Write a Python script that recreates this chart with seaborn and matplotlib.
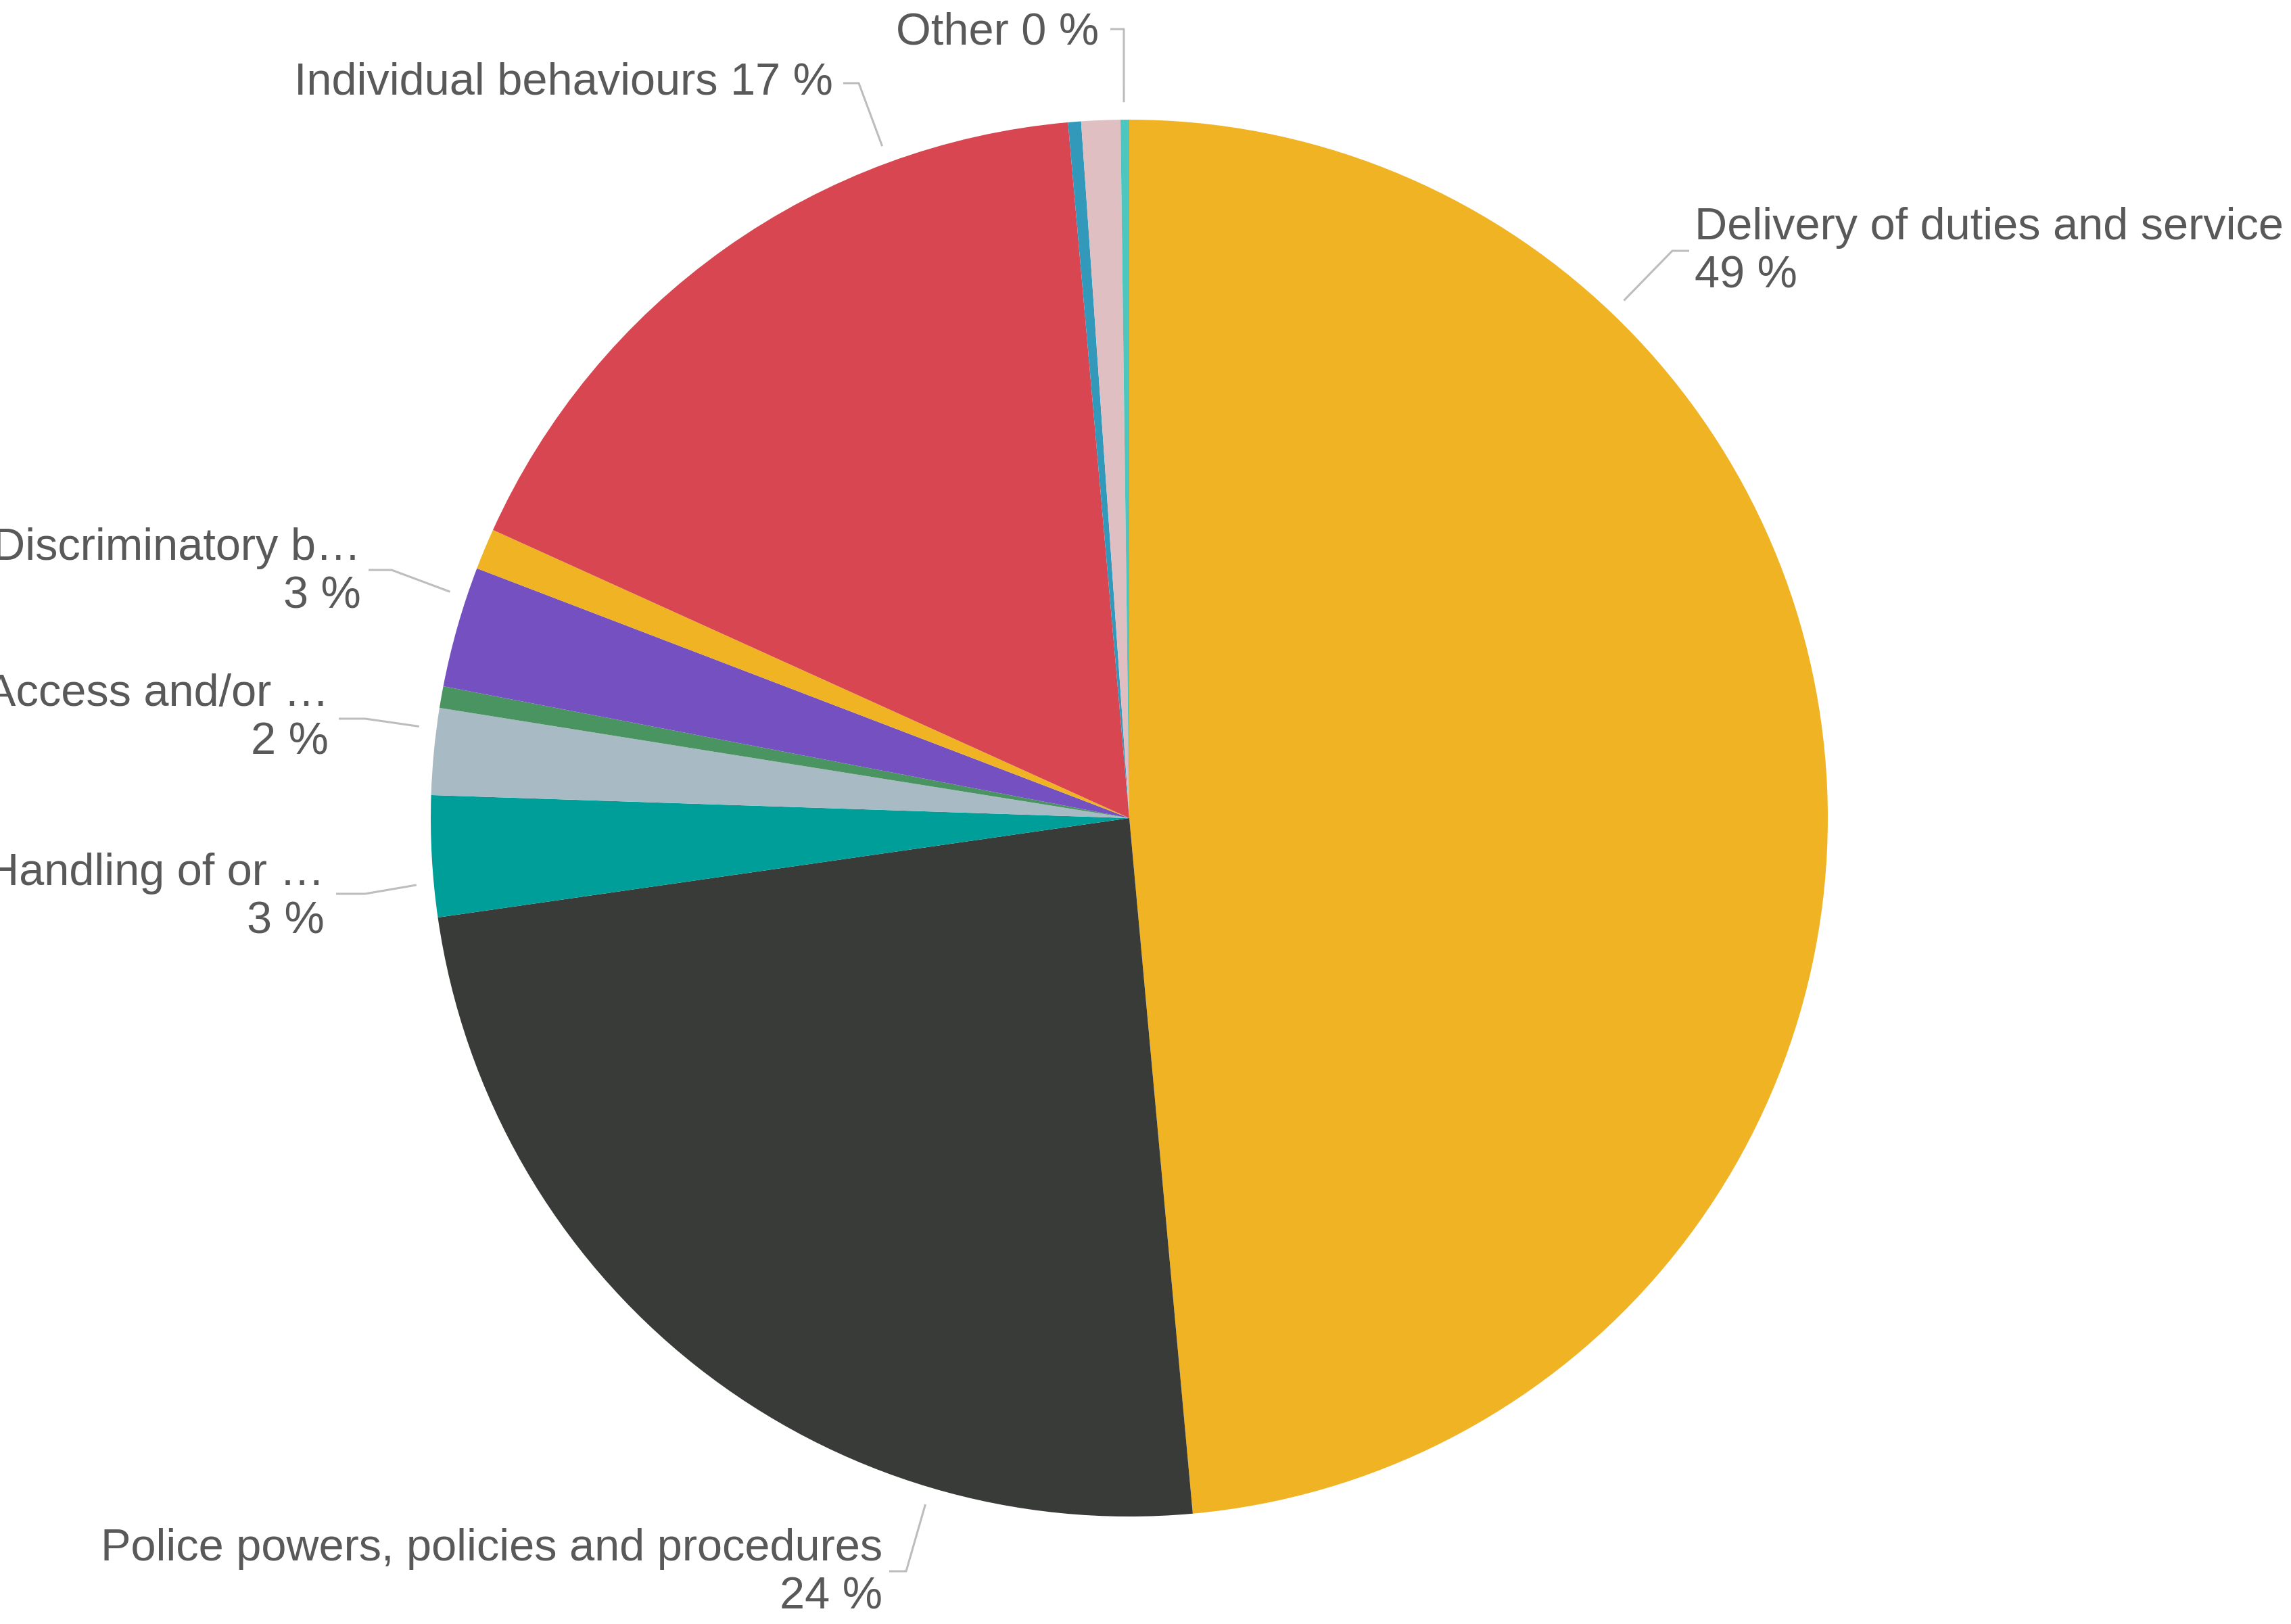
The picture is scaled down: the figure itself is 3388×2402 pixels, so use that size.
import numpy as np
import matplotlib
matplotlib.use("Agg")
import matplotlib.pyplot as plt
import seaborn as sns

# Complaint categories (clockwise from 12 o'clock) and their shares (%)
categories = [
    "Delivery of duties and service",
    "Police powers, policies and procedures",
    "Handling of or damage to property/premises",
    "Access and/or disclosure of information",
    "Use of police vehicles",
    "Discriminatory behaviour",
    "Abuse of position/corruption",
    "Individual behaviours",
    "Sexual conduct",
    "Discreditable conduct",
    "Other",
]
shares = [48.6, 24.2, 2.8, 2.0, 0.5, 2.8, 0.95, 16.85, 0.3, 0.9, 0.2]

colours = ["#F0B323", "#393B38", "#009E99", "#A8BAC3", "#4A9462", "#7550C1",
           "#F0B323", "#D84652", "#3399BB", "#DFBFC2", "#4DC6C0"]

# Shortened label text as shown next to the chart (None = no label)
label_text = [
    "Delivery of duties and service",
    "Police powers, policies and procedures",
    "Handling of or …",
    "Access and/or …",
    None,
    "Discriminatory b…",
    None,
    "Individual behaviours",
    None,
    None,
    "Other",
]

sns.set_theme(style="white")
plt.rcParams["font.family"] = ["Liberation Sans", "DejaVu Sans"]

W, H = 3388, 2402
CX, CY, R = 1670, 1210, 1033  # pie centre and radius in pixels

fig = plt.figure(figsize=(W / 100, H / 100), dpi=100)
ax = fig.add_axes([0, 0, 1, 1])

palette = sns.color_palette(colours)
wedges, _ = ax.pie(shares, colors=palette, startangle=90, counterclock=False,
                   radius=1.0, center=(0, 0),
                   wedgeprops=dict(linewidth=0, antialiased=True))

# pie() resets the limits, so set the canvas mapping afterwards
ax.set_xlim(-CX / R, (W - CX) / R)
ax.set_ylim(-(H - CY) / R, CY / R)
ax.set_aspect("equal")
ax.axis("off")


def px(x, y):
    """Pixel position -> data coordinates."""
    return ((x - CX) / R, (CY - y) / R)


TEXT_COL = "#595959"
LINE_COL = "#BDBDBD"
FS = 48

# Label layout: fraction within wedge for the leader start, elbow and end of
# leader (pixels), text anchor (pixels), alignment, two-line or single-line
layout = {
    0: dict(frac=0.25, elbow=(2473, 371), end=(2498, 371), xy=(2506, 354), ha="left", two=True),
    1: dict(frac=0.25, elbow=(1340, 2324), end=(1315, 2324), xy=(1305, 2308), ha="right", two=True),
    2: dict(frac=0.28, elbow=(540, 1322), end=(497, 1322), xy=(480, 1309), ha="right", two=True),
    3: dict(frac=0.76, elbow=(540, 1063), end=(501, 1063), xy=(486, 1044), ha="right", two=True),
    5: dict(frac=0.75, elbow=(579, 843), end=(545, 843), xy=(534, 828), ha="right", two=True),
    7: dict(frac=0.75, elbow=(1270, 123), end=(1247, 123), xy=(1232, 140), ha="right", two=False),
    10: dict(frac=0.40, elbow=(1662, 43), end=(1642, 43), xy=(1625, 65), ha="right", two=False),
}

total = sum(shares)
start = 0.0  # clockwise degrees from 12 o'clock
LINE_STEP = 72  # px between baselines
for i, (val, txt) in enumerate(zip(shares, label_text)):
    span = val / total * 360.0
    if i in layout:
        L = layout[i]
        theta = start + L["frac"] * span
        ang = np.deg2rad(90 - theta)
        r0 = 1.025
        p0 = (r0 * np.cos(ang), r0 * np.sin(ang))
        p1 = px(*L["elbow"])
        p2 = px(*L["end"])
        ax.plot([p0[0], p1[0], p2[0]], [p0[1], p1[1], p2[1]],
                color=LINE_COL, lw=2.2, solid_capstyle="butt", zorder=3)
        pct = f"{int(val / total * 100 + 0.5)} %"
        tx, ty = L["xy"]
        if L["two"]:
            ax.text(*px(tx, ty), txt, ha=L["ha"], va="baseline",
                    fontsize=FS, color=TEXT_COL)
            ax.text(*px(tx, ty + LINE_STEP), pct, ha=L["ha"], va="baseline",
                    fontsize=FS, color=TEXT_COL)
        else:
            ax.text(*px(tx, ty), f"{txt} {pct}", ha=L["ha"], va="baseline",
                    fontsize=FS, color=TEXT_COL)
    start += span

fig.savefig("out.png", dpi=100, facecolor="white")
